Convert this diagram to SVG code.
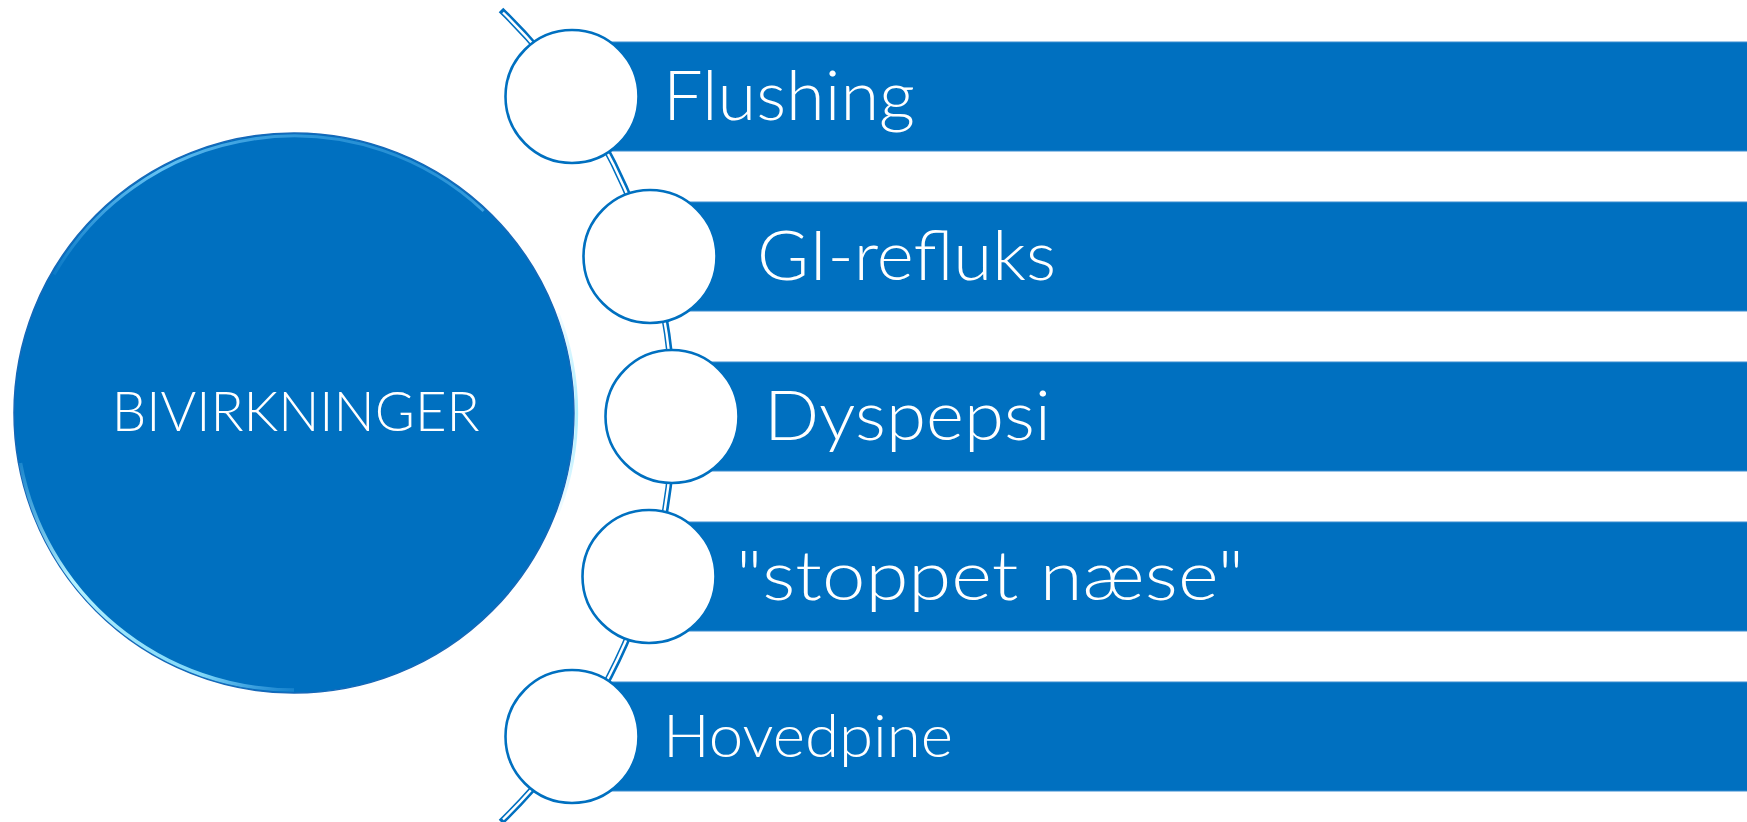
<svg xmlns="http://www.w3.org/2000/svg" width="1747" height="822" viewBox="0 0 1747 822">
  <style>
    .bar { fill: #0070C0; stroke: #3A8ED2; stroke-width: 1; }
    .dot { fill: #FFFFFF; stroke: #0070C0; stroke-width: 2.6; }
    .lbl { fill: #FFFFFF; font-family: Lato, "Open Sans", "Liberation Sans", sans-serif; font-size: 68px; font-weight: 300; }
    .lbl2 { fill: #FFFFFF; font-family: Lato, "Open Sans", "Liberation Sans", sans-serif; font-size: 60px; font-weight: 300; }
    .hl { fill: none; stroke-linecap: butt; }
  </style>
  <defs>
    <linearGradient id="gl" x1="0" y1="0" x2="1" y2="1">
      <stop offset="0" stop-color="#8FE3FF" stop-opacity="0.2"/>
      <stop offset="0.35" stop-color="#B5F2FF" stop-opacity="1"/>
      <stop offset="0.8" stop-color="#8FE3FF" stop-opacity="0.9"/>
      <stop offset="1" stop-color="#6CC8FF" stop-opacity="0.2"/>
    </linearGradient>
    <linearGradient id="gt" x1="0" y1="1" x2="1" y2="0">
      <stop offset="0" stop-color="#6CCBFF" stop-opacity="0.1"/>
      <stop offset="0.5" stop-color="#7FD6FF" stop-opacity="0.8"/>
      <stop offset="1" stop-color="#6CCBFF" stop-opacity="0.1"/>
    </linearGradient>
    <linearGradient id="gr" x1="0" y1="0" x2="0" y2="1">
      <stop offset="0" stop-color="#8FE3FF" stop-opacity="0.1"/>
      <stop offset="0.5" stop-color="#A6EEFF" stop-opacity="0.9"/>
      <stop offset="1" stop-color="#8FE3FF" stop-opacity="0.1"/>
    </linearGradient>
  </defs>
  <rect x="0" y="0" width="1747" height="822" fill="#FFFFFF"/>

  <g id="connectors">
    <path d="M 501 10 A 565 565 0 0 1 501 822" fill="none" stroke="#0070C0" stroke-width="6.5"/>
    <path d="M 503 12.5 A 565 565 0 0 1 503 819.5" fill="none" stroke="#FFFFFF" stroke-width="2.4"/>
  </g>

  <g id="node-center">
    <circle cx="294" cy="413" r="280" fill="#0070C0" stroke="#1668B8" stroke-width="1.5"/>
    <path class="hl" d="M 20.5 463 A 277 277 0 0 0 294 690" stroke="url(#gl)" stroke-width="3.5"/>
    <path class="hl" d="M 54.1 274.5 A 277 277 0 0 1 483.6 211" stroke="url(#gt)" stroke-width="3"/>
    <path class="hl" d="M 558 313 A 277 277 0 0 1 558 513" stroke="url(#gr)" stroke-width="3"/>
    <text x="111.7" y="431" fill="#FFFFFF" font-family="Lato, 'Open Sans', 'Liberation Sans', sans-serif" font-size="55" font-weight="300" textLength="368" lengthAdjust="spacingAndGlyphs">BIVIRKNINGER</text>
  </g>

  <g id="node-flushing">
    <rect class="bar" x="572" y="42" width="1180" height="109"/>
    <circle class="dot" cx="572" cy="96.5" r="66.5"/>
    <text class="lbl" x="663" y="120" textLength="252" lengthAdjust="spacingAndGlyphs">Flushing</text>
  </g>

  <g id="node-gi-refluks">
    <rect class="bar" x="650" y="202" width="1100" height="109"/>
    <circle class="dot" cx="650" cy="256.5" r="66.5"/>
    <text class="lbl" x="757" y="280" textLength="299" lengthAdjust="spacingAndGlyphs">GI-refluks</text>
  </g>

  <g id="node-dyspepsi">
    <rect class="bar" x="672" y="362" width="1080" height="109"/>
    <circle class="dot" cx="672" cy="416.5" r="66.5"/>
    <text class="lbl" x="764" y="439.5" textLength="287" lengthAdjust="spacingAndGlyphs">Dyspepsi</text>
  </g>

  <g id="node-stoppet-naese">
    <rect class="bar" x="650" y="522" width="1100" height="109"/>
    <circle class="dot" cx="649" cy="576.5" r="66.5"/>
    <text class="lbl" x="736" y="599.5" textLength="508" lengthAdjust="spacingAndGlyphs">"stoppet næse"</text>
  </g>

  <g id="node-hovedpine">
    <rect class="bar" x="572" y="682" width="1180" height="109"/>
    <circle class="dot" cx="572" cy="736.5" r="66.5"/>
    <text class="lbl2" x="663" y="757" textLength="290" lengthAdjust="spacingAndGlyphs">Hovedpine</text>
  </g>
</svg>
